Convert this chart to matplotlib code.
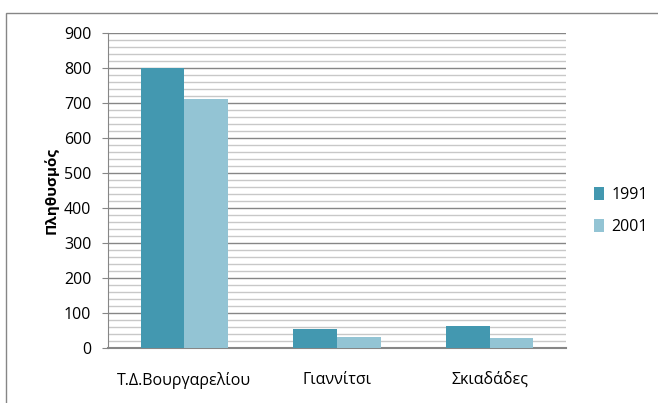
import matplotlib
matplotlib.use("Agg")
import matplotlib.pyplot as plt
import numpy as np
from matplotlib.patches import Rectangle

categories = ["Τ.Δ.Βουργαρελίου", "Γιαννίτσι", "Σκιαδάδες"]
series_names = ["1991", "2001"]
values_1991 = [800, 55, 63]
values_2001 = [710, 33, 29]
y_ticks = [0, 100, 200, 300, 400, 500, 600, 700, 800, 900]
y_label = "Πληθυσμός"

plt.rcParams['font.family'] = ['Open Sans', 'DejaVu Sans']

fig = plt.figure(figsize=(6.58, 4.03), dpi=100)
ax = fig.add_axes([108/658, 1-348.3/403, (566-108)/658, (348.3-32.7)/403])

x = np.arange(len(categories))
w = 0.287
c1 = "#4398b0"
c2 = "#93c4d4"
ax.bar(x - w/2, values_1991, w, color=c1, label=series_names[0], zorder=3)
ax.bar(x + w/2, values_2001, w, color=c2, label=series_names[1], zorder=3)

ax.set_xlim(-0.5, len(categories) - 0.5)
ax.set_ylim(0, 900)
ax.set_yticks(y_ticks)
ax.set_yticks(np.arange(0, 901, 20), minor=True)
ax.grid(True, which='major', axis='y', color='#868686', linewidth=1.0, zorder=0)
ax.grid(True, which='minor', axis='y', color='#c8c8c8', linewidth=1.0, zorder=0)
ax.tick_params(axis='y', which='minor', length=0)
ax.tick_params(axis='y', which='major', length=4, color='#868686', labelsize=11.5, pad=8)
ax.set_xticks(x)
ax.set_xticklabels(categories)
ax.tick_params(axis='x', length=0, labelsize=11.5, pad=17)
for s in ['top', 'right']:
    ax.spines[s].set_visible(False)
ax.spines['left'].set_color('#868686')
ax.spines['bottom'].set_color('#868686')
ax.spines['bottom'].set_linewidth(1.5)
ax.set_ylabel(y_label, fontsize=11, fontweight='bold', labelpad=4)

ax.legend(loc='center left', bbox_to_anchor=(594/658, 1 - 211/403), bbox_transform=fig.transFigure,
          frameon=False, fontsize=11.5, handlelength=0.65, handleheight=0.9, handletextpad=0.45,
          labelspacing=1.0, borderaxespad=0, borderpad=0)

fig.patches.append(Rectangle((6/658, -0.1), 1.2, 1 - 13/403 + 0.1, transform=fig.transFigure,
                             fill=False, edgecolor='#868686', linewidth=1.0))

fig.savefig("out.png", dpi=100)
